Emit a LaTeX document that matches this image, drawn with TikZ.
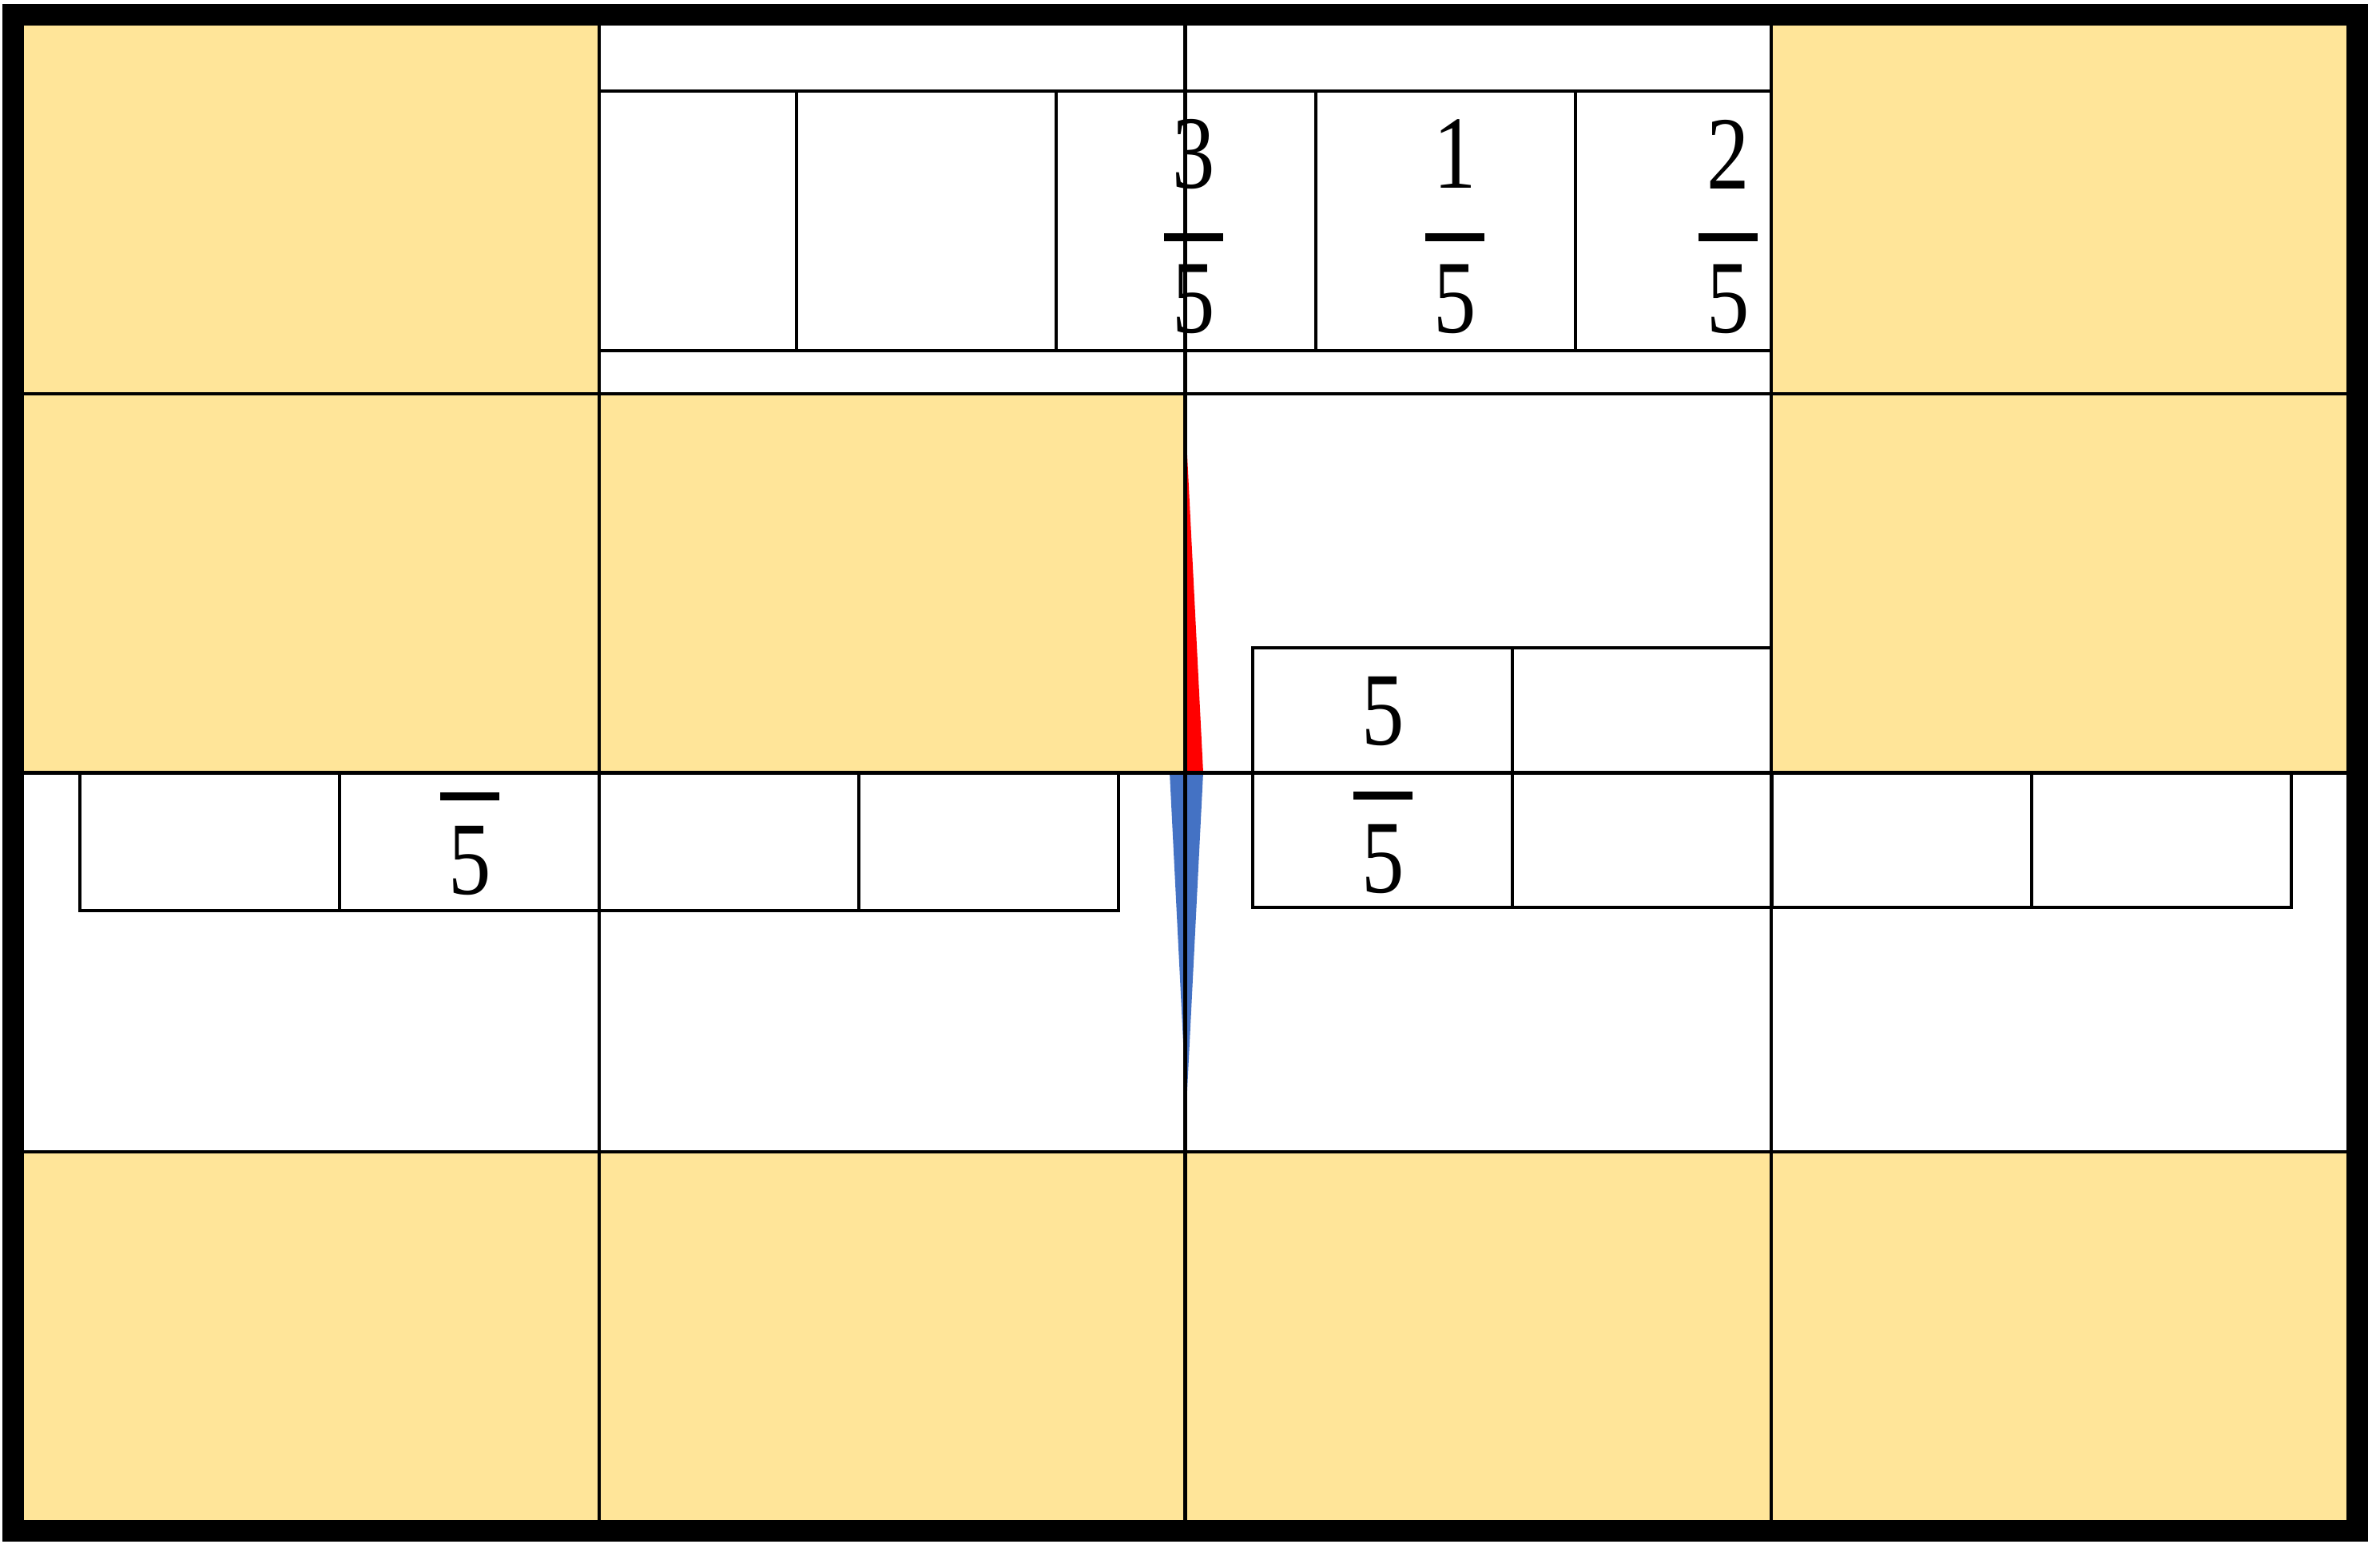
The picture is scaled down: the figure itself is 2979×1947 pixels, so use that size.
\documentclass[tikz,border=0pt]{standalone}
\usepackage{fontspec}
\usepackage{tikz}
\newfontfamily\digitfont{Liberation Serif}
\definecolor{cellgold}{HTML}{FFE599}
\definecolor{wedgeblue}{HTML}{4472C4}

\begin{document}
\begin{tikzpicture}[x=0.01cm,y=-0.01cm,
  gridline/.style={line width=1.3pt},
  strip/.style={line width=1.2pt},
  gold/.style={fill=cellgold},
  digit/.style={font=\digitfont\fontsize{37}{38}\selectfont,inner sep=0pt,xscale=0.82},
  fbar/.style={line width=0.1cm}]
\useasboundingbox (0,0) rectangle (2979,1947);

\foreach \k in {0,...,5} \draw[strip] (672+325*\k,114) rectangle ++(325,325);
\foreach \k in {0,...,3} \draw[strip] (100+325*\k,815) rectangle ++(325,325);
\foreach \k in {0,...,3} \draw[strip] (1568+325*\k,811) rectangle ++(325,325);

\node[digit] (n3) at (1494,193) {3};
\node[digit] (d3) at (1494,375) {5};
\node[digit] (n1) at (1821,193) {1};
\node[digit] (d1) at (1821,375) {5};
\node[digit] (n2) at (2163,193) {2};
\node[digit] (d2) at (2163,375) {5};
\node[digit] (dl) at (588,1078) {5};
\node[digit] (nr) at (1731,891) {5};
\node[digit] (dr) at (1731,1076) {5};
\draw[fbar] (1457,297) -- (1531,297);
\draw[fbar] (1784,297) -- (1858,297);
\draw[fbar] (2126,297) -- (2200,297);
\draw[fbar] (551,997) -- (625,997);
\draw[fbar] (1694,996) -- (1768,996);

\fill[red] (1486,570) -- (1486,967) -- (1506,967) -- cycle;
\fill[wedgeblue] (1464,967) -- (1506,967) -- (1485,1385) -- cycle;

\foreach \c/\r in {0/0,3/0,0/1,1/1,3/1,0/3,1/3,2/3,3/3}
  \fill[gold] (16.5+733.5*\c,18.5+474.5*\r) rectangle ++(733.5,474.5);

\foreach \i in {1,2,3} {
  \draw[gridline] (16.5+733.5*\i,18.5) -- (16.5+733.5*\i,1916.5);
  \draw[gridline] (16.5,18.5+474.5*\i) -- (2950.5,18.5+474.5*\i);
}
\draw[line width=0.27cm] (16.5,18.5) rectangle (2950.5,1916.5);
\end{tikzpicture}
\end{document}
